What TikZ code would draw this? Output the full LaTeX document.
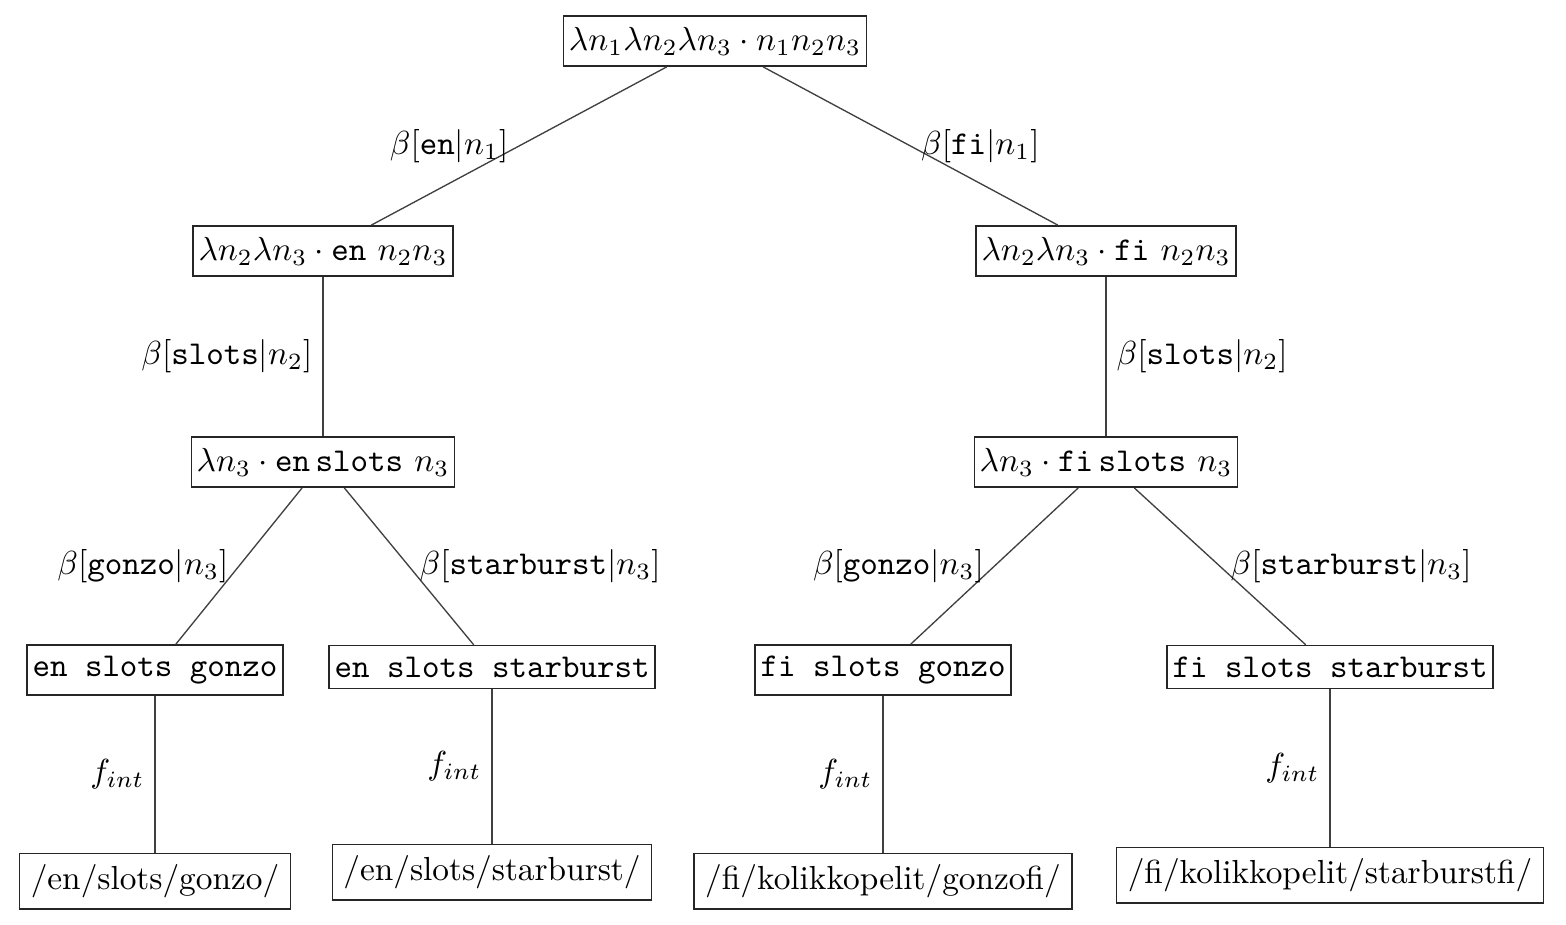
\documentclass[tikz,border=0pt]{standalone}
\begin{document}
\begin{tikzpicture}[x=0.3pt,y=-0.3pt,
  box/.style={draw=black!85, line width=0.45pt, inner ysep=3.33pt, inner xsep=1.6pt},
  leaf/.style={draw=black!85, line width=0.45pt, inner sep=3.33pt},
  edge/.style={draw=black!75, line width=0.4pt},
  lbl/.style={inner sep=3pt}]
\useasboundingbox (0,0) rectangle (1566,924);
% nodes
\node[box] (root) at (715,41) {$\lambda n_1\lambda n_2\lambda n_3\cdot n_1n_2n_3$};
\node[box] (L1) at (323,251) {$\lambda n_2\lambda n_3\cdot \texttt{en}\ n_2n_3$};
\node[box] (R1) at (1106,251) {$\lambda n_2\lambda n_3\cdot \texttt{fi}\ n_2n_3$};
\node[box] (L2) at (323,462) {$\lambda n_3\cdot \texttt{en}\,\texttt{slots}\ n_3$};
\node[box] (R2) at (1106,462) {$\lambda n_3\cdot \texttt{fi}\,\texttt{slots}\ n_3$};
\node[box] (LL) at (155,670) {\texttt{en slots gonzo}};
\node[box] (LR) at (492,667) {\texttt{en slots starburst}};
\node[box] (RL) at (883,670) {\texttt{fi slots gonzo}};
\node[box] (RR) at (1330,667) {\texttt{fi slots starburst}};
\node[leaf] (LLf) at (155,881) {/en/slots/gonzo/};
\node[leaf] (LRf) at (492,872) {/en/slots/starburst/};
\node[leaf] (RLf) at (883,881) {/fi/kolikkopelit/gonzofi/};
\node[leaf] (RRf) at (1330,875) {/fi/kolikkopelit/starburstfi/};
% edges
\draw[edge] (root) -- node[lbl, anchor=east] (e1) {$\beta[\texttt{en}|n_1]$} (L1);
\draw[edge] (root) -- node[lbl, anchor=west] (e2) {$\beta[\texttt{fi}|n_1]$} (R1);
\draw[edge] (L1) -- node[lbl, anchor=east] (e3) {$\beta[\texttt{slots}|n_2]$} (L2);
\draw[edge] (R1) -- node[lbl, anchor=west] (e4) {$\beta[\texttt{slots}|n_2]$} (R2);
\draw[edge] (L2) -- node[lbl, anchor=east] (e5) {$\beta[\texttt{gonzo}|n_3]$} (LL);
\draw[edge] (L2) -- node[lbl, anchor=west] (e6) {$\beta[\texttt{starburst}|n_3]$} (LR);
\draw[edge] (R2) -- node[lbl, anchor=east] (e7) {$\beta[\texttt{gonzo}|n_3]$} (RL);
\draw[edge] (R2) -- node[lbl, anchor=west] (e8) {$\beta[\texttt{starburst}|n_3]$} (RR);
\draw[edge] (LL) -- node[lbl, anchor=east] (f1) {$f_{int}$} (LLf);
\draw[edge] (LR) -- node[lbl, anchor=east] (f2) {$f_{int}$} (LRf);
\draw[edge] (RL) -- node[lbl, anchor=east] (f3) {$f_{int}$} (RLf);
\draw[edge] (RR) -- node[lbl, anchor=east] (f4) {$f_{int}$} (RRf);
\end{tikzpicture}
\end{document}
